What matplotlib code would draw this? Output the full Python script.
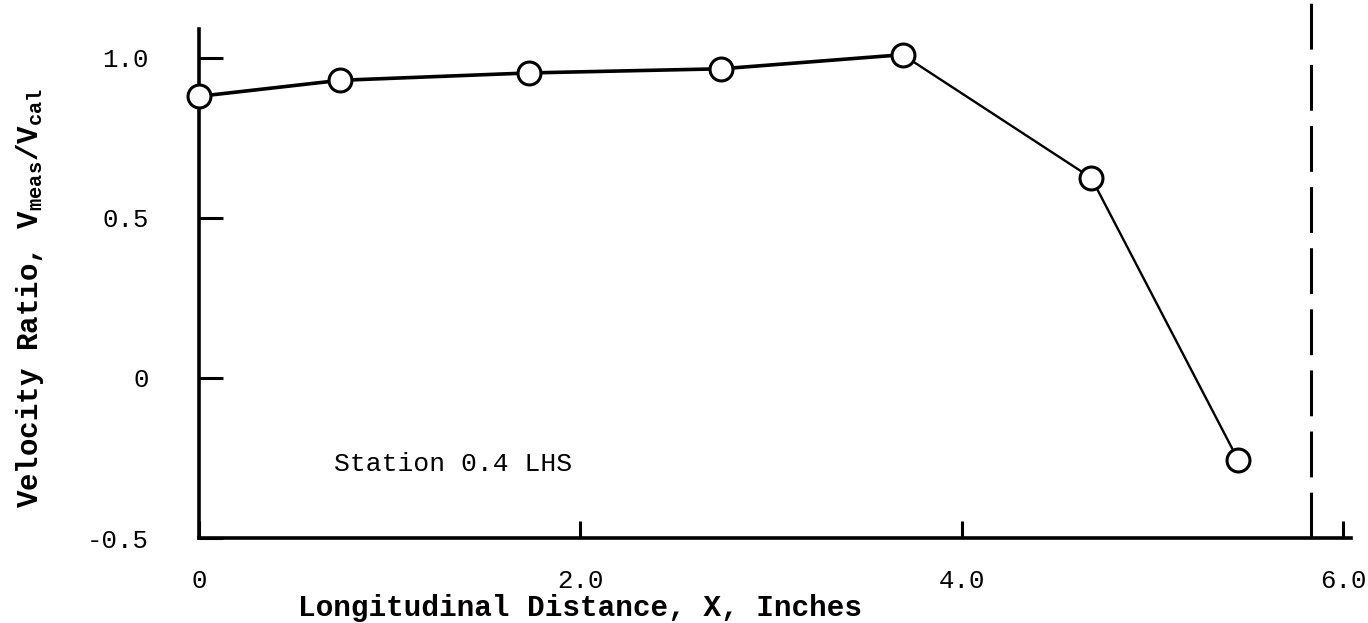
import matplotlib
matplotlib.use("Agg")
import matplotlib.pyplot as plt

# Data
x_in = [0.0, 0.74, 1.73, 2.74, 3.69, 4.68, 5.45]
v_ratio = [0.88, 0.93, 0.953, 0.966, 1.01, 0.625, -0.256]
x_ticks = [0, 2.0, 4.0, 6.0]
x_tick_labels = ["0", "2.0", "4.0", "6.0"]
y_ticks = [-0.5, 0, 0.5, 1.0]
y_tick_labels = ["-0.5", "0", "0.5", "1.0"]
wall_x = 5.83
annotation = "Station 0.4 LHS"

plt.rcParams['font.family'] = ['Liberation Mono', 'DejaVu Sans Mono']
plt.rcParams['mathtext.fontset'] = 'custom'
plt.rcParams['mathtext.rm'] = 'Liberation Mono:bold'
plt.rcParams['mathtext.it'] = 'Liberation Mono:bold'
plt.rcParams['mathtext.bf'] = 'Liberation Mono:bold'
plt.rcParams['mathtext.tt'] = 'Liberation Mono:bold'

fig = plt.figure(figsize=(13.68, 6.23), dpi=100)
ax = fig.add_axes([0.1455, 0.1364, 0.8418, 0.858])

xmax = 6.04
ax.set_xlim(0, xmax)
ax.set_ylim(-0.5, 1.17)

# thick first part, thinner descending part
ax.plot(x_in[:5], v_ratio[:5], color='black', lw=2.6, zorder=2, clip_on=False)
ax.plot(x_in[4:], v_ratio[4:], color='black', lw=1.7, zorder=2, clip_on=False)
ax.plot(x_in, v_ratio, linestyle='none', marker='o', markersize=16.5,
        markerfacecolor='white', markeredgecolor='black', markeredgewidth=2.2,
        zorder=3, clip_on=False)

ax.axvline(wall_x, color='black', lw=2.2, linestyle=(0, (15, 5)), zorder=1)

for s in ['top', 'right']:
    ax.spines[s].set_visible(False)
for s in ['left', 'bottom']:
    ax.spines[s].set_linewidth(2.6)
ax.spines['left'].set_bounds(-0.5, 1.09)

ax.set_xticks(x_ticks)
ax.set_xticklabels(x_tick_labels)
ax.set_yticks(y_ticks)
ax.set_yticklabels(y_tick_labels)
ax.tick_params(axis='y', direction='in', length=17, width=2.2, pad=36, labelsize=18.5)
ax.tick_params(axis='x', direction='in', length=12, width=2.2, pad=22, labelsize=18.5)

ax.set_xlabel("Longitudinal Distance, X, Inches", fontsize=21.2, fontweight='bold')
ax.xaxis.set_label_coords(2.0 / xmax, -0.105)
ax.set_ylabel(r"Velocity Ratio, V$_{\mathrm{meas}}$/V$_{\mathrm{cal}}$", fontsize=21, fontweight='bold')
ax.yaxis.set_label_coords(-0.133, 0.45)

ax.text(0.71, -0.27, annotation, fontsize=19, va='center', ha='left')

fig.savefig("out.png", dpi=100)
